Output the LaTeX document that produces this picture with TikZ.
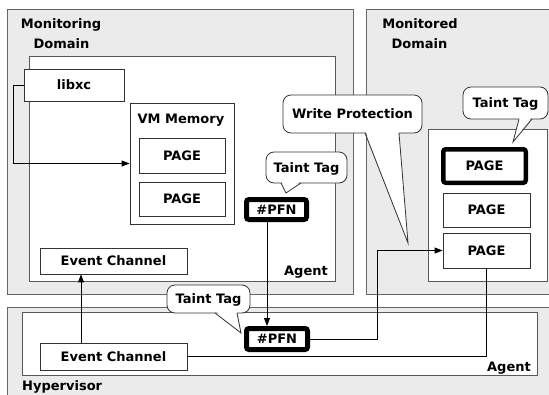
\documentclass[tikz,border=0pt]{standalone}
\usepackage{fontspec}
\setmainfont{DejaVu Sans}
\usetikzlibrary{arrows.meta}
\begin{document}
\begin{tikzpicture}[x=1pt,y=-1pt,
  every node/.style={inner sep=0pt, text height=9.5pt, text depth=0pt},
  font=\bfseries\fontsize{13}{15}\selectfont,
  domainbox/.style={draw=black!60, fill=black!8, line width=0.9pt},
  agentbox/.style={draw=black!65, fill=white, line width=0.9pt},
  plainbox/.style={draw=black!80, fill=white, line width=0.8pt},
  heavybox/.style={draw=black, fill=white, line width=5pt, rounded corners=2.5pt},
  conn/.style={line width=0.9pt},
  arr/.style={conn, -{Triangle[length=8pt,width=6pt]}},
  bubble/.style={draw=black!80, fill=white, line width=0.8pt, rounded corners=8pt},
  tailline/.style={draw=black!80, line width=0.8pt, line join=miter}]
\useasboundingbox (0,0) rectangle (549,394);
\fill[white] (0,0) rectangle (549,394);

% domains
\node[domainbox, minimum width=346pt, minimum height=285pt] (mon) at (180,151.5) {};
\node[domainbox, minimum width=196pt, minimum height=285pt] (mond) at (464,151.5) {};
\node[domainbox, minimum width=555pt, minimum height=97pt] (hyp) at (284.5,355.5) {};

% agents
\node[agentbox, minimum width=306pt, minimum height=225pt] (agentA) at (182,168.5) {};
\node[agentbox, minimum width=119pt, minimum height=152pt] (agentB) at (487.5,205) {};
\node[agentbox, minimum width=515pt, minimum height=63pt] (agentH) at (279.5,343.5) {};

% labels
\node (lmon1) at (61,24) {Monitoring};
\node (lmon2) at (61.5,44) {Domain};
\node (lmd1) at (420,24) {Monitored};
\node (lmd2) at (419.5,44) {Domain};
\node[anchor=base east, text height=, text depth=] (lagA) at (328,275) {Agent};
\node[anchor=base east, text height=, text depth=] (lagH) at (531,371.5) {Agent};
\node[anchor=base west, text height=, text depth=] (lhyp) at (22,390.5) {Hypervisor};

% monitoring side
\node[plainbox, minimum width=100pt, minimum height=32pt] (libxc) at (74,85) {libxc};
\node[plainbox, minimum width=104pt, minimum height=121pt] (vmmem) at (182,163.5) {};
\node (lvm) at (181,119) {VM Memory};
\node[plainbox, minimum width=86pt, minimum height=35pt] (pga) at (182,155.5) {PAGE};
\node[plainbox, minimum width=86pt, minimum height=34pt] (pgb) at (182,199) {PAGE};
\node[plainbox, minimum width=147pt, minimum height=26pt] (ecA) at (113.5,261) {Event Channel};
\node[heavybox, minimum width=60pt, minimum height=20pt] (pfnA) at (276.5,209.5) {\#PFN};

% monitored side
\node[heavybox, line width=4.5pt, minimum width=82.5pt, minimum height=33.5pt] (pgt) at (484.5,166) {PAGE};
\node[plainbox, minimum width=87pt, minimum height=34pt] (pg2) at (486.5,210) {PAGE};
\node[plainbox, minimum width=87pt, minimum height=35pt] (pg3) at (486.5,250.5) {PAGE};

% hypervisor side
\node[plainbox, minimum width=147pt, minimum height=27pt] (ecH) at (113.5,356.5) {Event Channel};
\node[heavybox, minimum width=61pt, minimum height=21pt] (pfnH) at (277,339) {\#PFN};

% helper coordinates
\coordinate (xA) at (81,0);
\coordinate (xP) at (267,0);
\coordinate (jog) at (377,0);
\coordinate (xL) at (13,0);

% connectors
\draw[arr] (libxc.west) -- (libxc.west -| xL) |- (vmmem.west);
\draw[arr] (pfnA.south -| xP) -- (pfnH.north -| xP);
\draw[arr] (ecH.north -| xA) -- (ecA.south -| xA);
\draw[arr] (pfnH.east) -- (pfnH.east -| jog) |- (pg3.west);
\draw[conn] (pg3.south) -- (pg3.south |- ecH.east) -- (ecH.east);

% callouts
\node[bubble, minimum width=139pt, minimum height=38pt] (wp) at (352.5,114) {Write Protection};
\coordinate (wptip) at (408,243);
\fill[white] (365.5,131) -- (wptip) -- (398.5,131) -- cycle;
\draw[tailline] (365,133) -- (wptip) -- (399,133);

\node[bubble, minimum width=85pt, minimum height=32pt] (ttR) at (505.5,103) {Taint Tag};
\coordinate (ttRtip) at (513,142);
\fill[white] (519.5,117) -- (ttRtip) -- (531.5,117) -- cycle;
\draw[tailline] (519,119) -- (ttRtip) -- (532,119);

\node[bubble, minimum width=81pt, minimum height=31pt] (ttM) at (306.5,167.5) {Taint Tag};
\coordinate (ttMtip) at (286,193);
\fill[white] (281.5,181) -- (ttMtip) -- (300.5,181) -- cycle;
\draw[tailline] (281,183) -- (ttMtip) -- (301,183);

\node[bubble, minimum width=83pt, minimum height=28pt] (ttL) at (208.5,299) {Taint Tag};
\coordinate (ttLtip) at (241,333);
\fill[white] (215.5,311) -- (ttLtip) -- (236.5,311) -- cycle;
\draw[tailline] (215,313) -- (ttLtip) -- (237,313);
\end{tikzpicture}
\end{document}
